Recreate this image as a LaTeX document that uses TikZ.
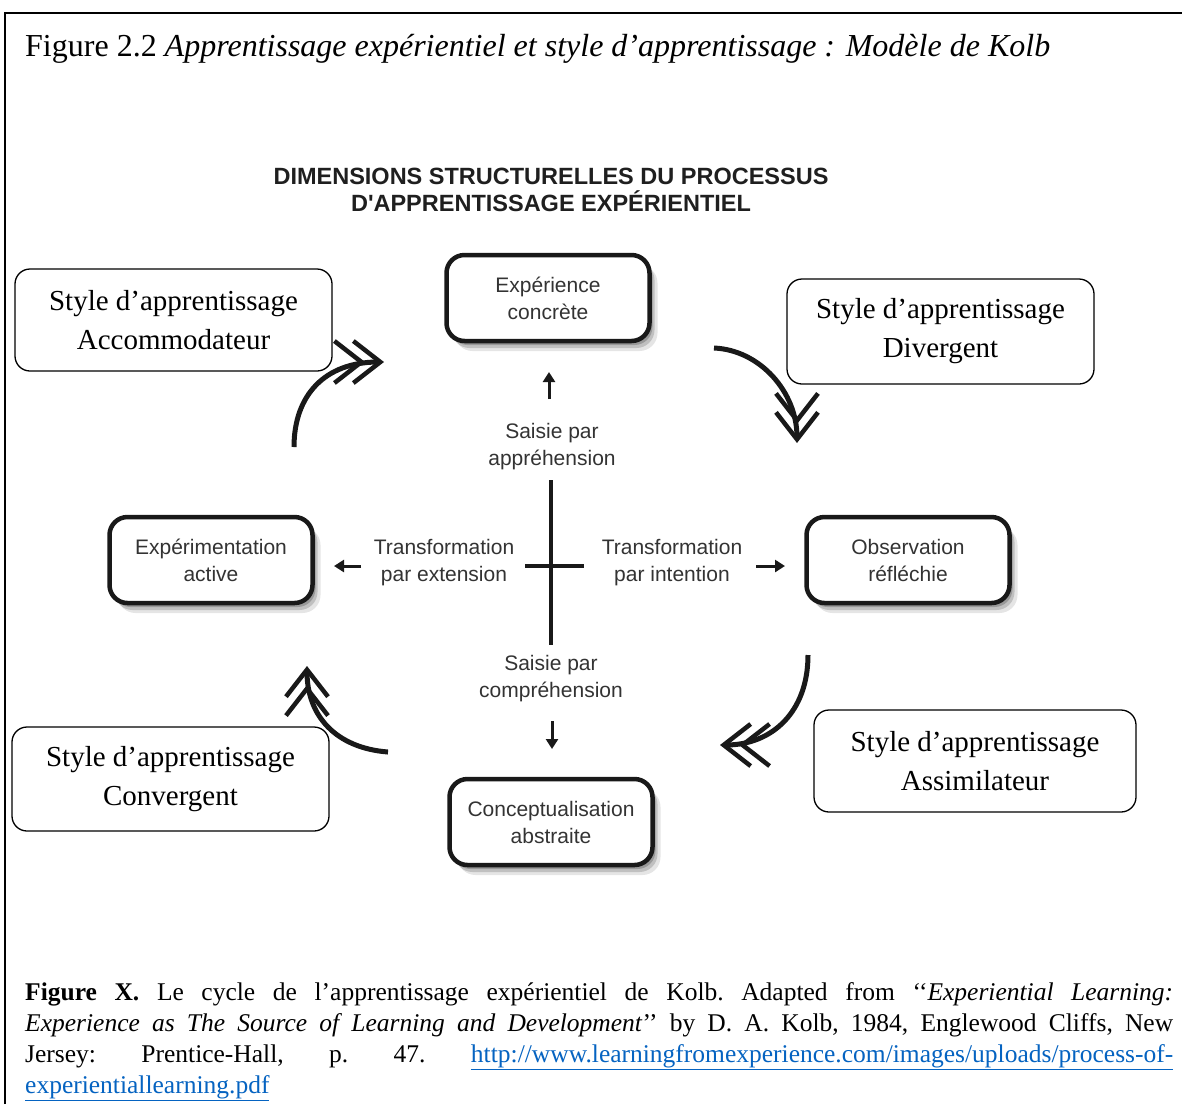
\documentclass[tikz,border=0pt]{standalone}
\usepackage{fontspec}
\setmainfont{Liberation Serif}
\setsansfont{Liberation Sans}
\newfontfamily\headfont{Liberation Sans}
\usetikzlibrary{arrows.meta,shadows}
\definecolor{ink}{HTML}{333333}
\definecolor{linkblue}{HTML}{0563C1}
\tikzset{
  stylebox/.style={draw, line width=1.3pt, rounded corners=15pt, fill=white,
    align=center, inner sep=0pt, font=\fontsize{29}{39}\selectfont},
  kbox/.style={draw=black!90, line width=4.5pt, rounded corners=18pt, fill=white,
    minimum width=203pt, minimum height=86pt, align=center, inner sep=0pt,
    font=\sffamily\fontsize{21}{27}\selectfont, text=ink,
    drop shadow={shadow xshift=8pt, shadow yshift=-10pt, opacity=0.10, fill=black},
    drop shadow={shadow xshift=5pt, shadow yshift=-7pt, opacity=0.16, fill=black},
    drop shadow={shadow xshift=3pt, shadow yshift=-4pt, opacity=0.2, fill=black}},
  lbl/.style={font=\sffamily\fontsize{21}{27}\selectfont, text=ink, align=center, inner sep=0pt},
  curarr/.style={line width=5pt, draw=black!90, line cap=butt,
    -{Straight Barb[length=27pt,width=42pt,line width=4.5pt,sep=-14pt] Straight Barb[length=27pt,width=42pt,line width=4.5pt]}},
  smallarr/.style={line width=3pt, draw=black!90, -{Triangle[length=10pt,width=12pt]}},
}
\begin{document}
\begin{tikzpicture}[x=1pt,y=-1pt]
\useasboundingbox (0,0) rectangle (1182,1104);
\fill[white] (0,0) rectangle (1182,1104);
% frame
\draw[line width=1.5pt] (5,1104) -- (5,13) -- (1182,13);
% title
\node[anchor=base west, inner sep=0pt, font=\fontsize{32}{38}\selectfont] (title) at (25,56)
  {Figure 2.2 \textit{Apprentissage expérientiel et style d’apprentissage : Modèle de Kolb}};
% heading
\node[font=\headfont\bfseries\fontsize{23.5}{27}\selectfont, text=black!88, align=center, inner sep=0pt] (head) at (551,190)
  {DIMENSIONS STRUCTURELLES DU PROCESSUS\\D'APPRENTISSAGE EXPÉRIENTIEL};
% Kolb boxes
\node[kbox] (ec) at (548,298) {Expérience\\concrète};
\node[kbox] (ea) at (211,560) {Expérimentation\\active};
\node[kbox] (or) at (908,560) {Observation\\réfléchie};
\node[kbox] (ca) at (551,822) {Conceptualisation\\abstraite};
% cross
\coordinate (vt) at (551,480);
\coordinate (vb) at (551,645);
\coordinate (hl) at (525,566);
\coordinate (hr) at (584,566);
\draw[line width=3.5pt, draw=black!90] (vt) -- (vb);
\draw[line width=3.5pt, draw=black!90] (hl) -- (hr);
% labels
\node[lbl] (sa) at (552,447) {Saisie par\\appréhension};
\node[lbl] (te) at (444,563) {Transformation\\par extension};
\node[lbl] (ti) at (672,563) {Transformation\\par intention};
\node[lbl] (sc) at (551,679) {Saisie par\\compréhension};
% small arrows
\coordinate (a1s) at (549,399); \coordinate (a1e) at (549,372);
\coordinate (a2s) at (361,566); \coordinate (a2e) at (334,566);
\coordinate (a3s) at (756,566); \coordinate (a3e) at (785,566);
\coordinate (a4s) at (552,721); \coordinate (a4e) at (552,749);
\draw[smallarr] (a1s) -- (a1e);
\draw[smallarr] (a2s) -- (a2e);
\draw[smallarr] (a3s) -- (a3e);
\draw[smallarr] (a4s) -- (a4e);
% curved arrows
\coordinate (c1s) at (294,447); \coordinate (c1e) at (384,362);
\coordinate (c2s) at (714,348); \coordinate (c2e) at (797,443);
\coordinate (c3s) at (808,655); \coordinate (c3e) at (720,745);
\coordinate (c4s) at (388,752); \coordinate (c4e) at (307,666);
\draw[curarr] (c1s) .. controls (294,395) and (325,362) .. (c1e);
\draw[curarr] (c2s) .. controls (760,350) and (797,392) .. (c2e);
\draw[curarr] (c3s) .. controls (808,712) and (772,745) .. (c3e);
\draw[curarr] (c4s) .. controls (336,748) and (307,716) .. (c4e);
% style boxes
\node[stylebox, minimum width=317pt, minimum height=102pt] (acc) at (173.5,320) {Style d’apprentissage\\Accommodateur};
\node[stylebox, minimum width=307pt, minimum height=105pt] (div) at (940.5,331.5) {Style d’apprentissage\\Divergent};
\node[stylebox, minimum width=317pt, minimum height=104pt] (conv) at (170.5,779) {Style d’apprentissage\\Convergent};
\node[stylebox, minimum width=322pt, minimum height=102pt] (assim) at (975,761) {Style d’apprentissage\\Assimilateur};
% caption
\node[anchor=north west, inner sep=0pt, text width=1148pt, align=justify,
      font=\fontsize{25.5}{31}\selectfont] (cap) at (25,982)
  {\frenchspacing\textbf{Figure X.} Le cycle de l’apprentissage expérientiel de Kolb. Adapted from ‘‘\textit{Experiential Learning:}\linebreak
   \textit{Experience as The Source of Learning and Development}’’ by D. A. Kolb, 1984, Englewood Cliffs, New\linebreak
   Jersey: Prentice-Hall, p. 47. {\color{linkblue}\underline{http://www.learningfromexperience.com/images/uploads/process-of-}}\linebreak
   {\color{linkblue}\underline{experientiallearning.pdf}}};
\end{tikzpicture}
\end{document}
